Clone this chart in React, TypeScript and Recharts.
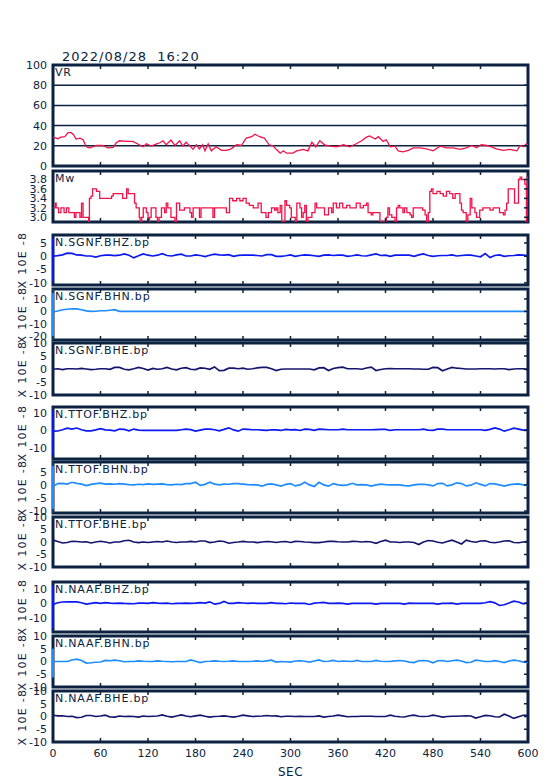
import React from "react";
import { LineChart, Line, XAxis, YAxis, CartesianGrid, ReferenceArea, ReferenceLine } from "recharts";

// seconds axis
const secTicks = [0, 60, 120, 180, 240, 300, 360, 420, 480, 540, 600];

// VR (variance reduction)
const vrTime = [
  0, 6, 10, 15, 19, 23, 26, 29, 34, 38, 42, 46, 50, 55, 63, 69, 76, 80, 84, 93,
  101, 109, 114, 118, 124, 131, 135, 139, 143, 149, 154, 160, 164, 168, 173, 177, 181, 185, 189, 192,
  196, 200, 206, 213, 219, 225, 232, 238, 244, 251, 255, 261, 267, 273, 278, 282, 287, 291, 295, 303,
  308, 316, 322, 327, 332, 337, 343, 350, 358, 367, 375, 383, 390, 396, 400, 407, 411, 417, 421, 426,
  432, 436, 442, 449, 455, 463, 472, 480, 489, 497, 506, 514, 522, 529, 535, 541, 548, 554, 560, 569,
  577, 586, 590, 594, 598, 600,
];
const vrValue = [
  28.6, 27, 28.5, 29, 33, 33, 31, 26.7, 27.6, 26, 19, 18, 19, 20.3, 20.3, 18, 18.4, 23, 25, 24.4,
  24.4, 21, 19, 22, 19.7, 22, 23, 25, 21, 25.7, 20.3, 25, 19.7, 23.5, 19.7, 16.5, 21, 17, 21, 15,
  22, 15, 19, 15.5, 15.5, 17, 21, 20.3, 27.6, 29, 31.4, 29, 27.6, 21, 20, 16.5, 12.7, 15, 12.7, 12.7,
  15, 16.5, 15, 23.5, 19, 25, 21, 19.7, 19, 21, 19, 22, 25, 28.6, 29.8, 26.7, 29, 24.4, 26, 19,
  19.7, 15, 14, 15.5, 18, 18, 17, 15, 19.7, 18, 18, 16.5, 18, 20.3, 18, 21, 20.3, 19, 17, 15.5,
  16.5, 15, 20.3, 19, 22, 21,
];

// Mw
const mwTime = [
  0, 3, 4, 7, 10, 14, 17, 20, 27, 29, 34, 36, 38, 42, 45, 46, 48, 50, 55, 59,
  74, 76, 88, 93, 95, 101, 103, 105, 109, 110, 112, 114, 118, 120, 122, 124, 130, 132, 134, 137,
  141, 143, 145, 149, 154, 156, 160, 166, 173, 175, 177, 185, 187, 202, 204, 219, 223, 227, 232, 236,
  240, 244, 248, 253, 259, 263, 269, 272, 276, 280, 282, 284, 287, 289, 293, 295, 299, 301, 306, 308,
  312, 314, 316, 318, 320, 322, 327, 331, 333, 341, 343, 348, 352, 354, 358, 362, 366, 371, 375, 383,
  388, 392, 396, 398, 402, 404, 413, 421, 423, 425, 428, 432, 434, 436, 438, 442, 444, 447, 451, 453,
  455, 461, 467, 470, 472, 474, 476, 478, 480, 485, 489, 493, 497, 501, 505, 508, 512, 514, 516, 518,
  522, 524, 527, 529, 533, 535, 539, 543, 548, 552, 556, 560, 564, 569, 571, 573, 575, 581, 583, 586,
  588, 590, 592, 596, 598, 599, 600,
];
const mwValue = [
  3.2, 3.3, 3.2, 3.1, 3.2, 3.1, 3.2, 3.1, 3.0, 3.1, 3.0, 3.3, 3.0, 3.0, 2.9, 3.4, 3.45, 3.6, 3.55, 3.4,
  3.45, 3.5, 3.4, 3.6, 3.5, 3.5, 3.3, 3.2, 3.0, 2.9, 3.0, 3.2, 3.1, 2.9, 3.0, 3.2, 3.0, 2.9, 3.0, 3.2,
  3.1, 3.3, 3.2, 3.0, 2.9, 3.3, 3.15, 3.2, 3.1, 3.0, 3.2, 3.0, 3.2, 3.0, 3.2, 3.1, 3.4, 3.35, 3.4, 3.35,
  3.4, 3.3, 3.25, 3.2, 3.3, 3.1, 3.0, 3.1, 3.2, 3.15, 3.2, 3.1, 3.25, 2.9, 3.35, 3.25, 3.2, 3.0, 2.9, 3.3,
  3.2, 3.0, 3.1, 3.25, 2.9, 3.0, 3.1, 3.3, 3.2, 3.2, 3.05, 3.2, 3.1, 3.3, 3.2, 3.3, 3.2, 3.25, 3.2, 3.3,
  3.2, 3.25, 3.3, 3.1, 3.05, 3.1, 2.9, 3.0, 3.2, 3.05, 3.0, 2.9, 3.2, 3.25, 3.2, 3.1, 3.2, 3.1, 3.05, 3.0,
  3.2, 3.2, 3.15, 3.05, 2.9, 3.1, 3.55, 3.6, 3.5, 3.55, 3.5, 3.45, 3.55, 3.5, 3.4, 3.5, 3.5, 3.3, 3.15, 3.1,
  2.9, 3.05, 3.4, 3.2, 3.1, 3.0, 3.15, 3.2, 3.2, 3.15, 3.2, 3.2, 3.1, 3.05, 3.15, 3.3, 3.6, 3.6, 3.3, 3.3,
  3.8, 3.85, 3.8, 3.7, 2.9, 3.85, 3.85,
];

// waveform sample times (s)
const waveTime = [
  0, 6, 12, 18, 24, 30, 36, 42, 48, 54, 60, 66, 72, 78, 84, 90, 96, 102, 108, 114,
  120, 126, 132, 138, 144, 150, 156, 162, 168, 174, 180, 186, 192, 198, 204, 210, 216, 222, 228, 234,
  240, 246, 252, 258, 264, 270, 276, 282, 288, 294, 300, 306, 312, 318, 324, 330, 336, 342, 348, 354,
  360, 366, 372, 378, 384, 390, 396, 402, 408, 414, 420, 426, 432, 438, 444, 450, 456, 462, 468, 474,
  480, 486, 492, 498, 504, 510, 516, 522, 528, 534, 540, 546, 552, 558, 564, 570, 576, 582, 588, 594,
  600,
];

// waveforms, x 10E-8
const sgnfBHZ = [
  0, 0.25, 0.55, 1.2, 1.1, 0.5, 0.4, 0.1, 0.1, -0.3,
  0.2, 0.4, 0.4, 0.25, 0.4, 0.9, 0.4, -0.6, 0.2, 0.9,
  0.4, 0.1, 0.4, 1.0, 0.3, 0.1, 0.5, 0.8, 0.1, 0.1,
  0.5, 0.3, -0.1, 0.4, 0.8, 0.5, 0.4, 0.6, 0, 0.35,
  0.4, 0.4, 0.4, 0.3, 0.1, 0.6, 0.6, 0, 0, 0.2,
  0.5, 0, 0.3, 0.5, 0.4, 0.2, 0, 0.4, 0.5, 0.3,
  0.4, 0.4, 0, 0.2, 0.5, 0.2, 0.1, 0.5, 0.9, 0.3,
  0.4, 0, 0.4, 0.4, 0.4, 0.4, 0, 0.5, 0.9, 0.3,
  0, 0.2, 0.3, 0.3, 0.5, 0.1, 0.3, 0.4, 0.4, 0.1,
  -0.2, 1.0, -0.5, 0.3, 0.5, 0, 0.2, 0.3, 0.5, 0.4,
  0.3,
];
const sgnfBHN = [
  -0.5, 0.3, 1.3, 1.7, 2.1, 2.0, 1.3, 0.4, 0, 0.1,
  0.5, 0.5, 0.9, 1.4, 0, 0, 0, 0, 0, 0,
  0, 0, 0, 0, 0, 0, 0, 0, 0, 0,
  0, 0, 0, 0, 0, 0, 0, 0, 0, 0,
  0, 0, 0, 0, 0, 0, 0, 0, 0, 0,
  0, 0, 0, 0, 0, 0, 0, 0, 0, 0,
  0, 0, 0, 0, 0, 0, 0, 0, 0, 0,
  0, 0, 0, 0, 0, 0, 0, 0, 0, 0,
  0, 0, 0, 0, 0, 0, 0, 0, 0, 0,
  0, 0, 0, 0, 0, 0, 0, 0, 0, 0,
  0,
];
const sgnfBHE = [
  -0.1, 0.1, -0.2, 0.1, 0.1, 0, 0.25, 0, -0.25, -0.1,
  0.1, 0.1, -0.1, 0.6, 0.6, -0.1, -0.3, 0.1, 0.6, 0.2,
  -0.4, 0.2, -0.1, 0.1, 0.6, 0, -0.3, 0.3, 0.5, -0.1,
  -0.2, 0.4, 0.3, -0.1, 0.8, -0.6, -0.5, 0.3, 0.3, 0.1,
  0.3, -0.1, 0.1, 0.4, 0.6, 0.6, 0.1, -0.6, -0.1, 0,
  0, 0, 0, 0, 0, -0.3, 0.4, 0.5, -0.6, 0.2,
  0.5, 0.7, 0.1, 0.1, 0.1, -0.1, 0.4, 0.7, -0.6, -0.2,
  0.1, 0.2, 0.1, 0.1, 0.1, 0.1, 0, 0, -0.1, -0.1,
  0.6, 0.5, -0.7, 0, 0.6, 0.3, 0.2, 0, 0, 0,
  0.1, 0.1, 0.1, 0, 0.1, 0.1, -0.2, 0, 0.1, 0.1,
  -0.4,
];
const ttofBHZ = [
  -0.4, -0.3, 0.4, 1.3, 0.8, 1.4, 0.4, -0.2, -0.2, 0.3,
  1.0, 0.3, 0.2, -0.2, 0.8, 0.6, -0.2, 0.8, 0.2, 0,
  0, 0, 0, 0, 0, 0, 0, 0.4, 0.8, 0.5,
  -0.4, 0.2, 0.8, 0.8, 0.4, -0.2, 0.6, 1.5, 0.3, -0.4,
  0.8, 0.6, 0.4, 0.4, 0.2, 0, 0.4, 0.3, 0, 0.6,
  0.3, 0.5, 0, 0.8, 0.6, 0.1, 0.8, 0.6, 0.4, 0.4,
  0.4, 0.8, 0.4, 0.4, 0.4, 0.4, 0.4, 0.4, 0.5, 0.6,
  0.6, 0, 0.4, 0.4, 0.4, 0.4, 0.4, 0.4, 0.8, 0.2,
  0.1, 0.8, 0.8, 0.4, 0.4, 0.4, 0.4, 0.4, 0.4, 0.4,
  0.4, 0.1, 0.6, 1.5, 0.8, -0.4, 0.4, 1.3, 0.8, 0.2,
  0.4,
];
const ttofBHN = [
  -0.5, 0.5, 0.6, 0.3, 1.0, 0.6, 0.3, -0.25, 0.2, 0.5,
  0.7, 0.3, 0.4, 0.25, 0.5, 0.3, 0.1, 0, 0.25, 0.1,
  0.4, 0.2, 0.3, 0.4, 0.1, 0, 0.25, 0.1, 0.5, 0.5,
  1.0, -0.2, 0.2, 1.0, 0.3, 0, 0.3, 0.25, 0.5, 0.5,
  0.3, 0.1, 0, 0, -0.5, 0.2, 0.4, 0, -0.5, 0.2,
  0.5, -0.4, 0, 1.0, 0, -0.6, 1.0, 0, -0.5, 0.5,
  0, -0.2, 0, 0.6, 0, 0.1, 0, -0.5, 0, 0.3,
  0.1, 0, 0, 0, -0.3, -0.4, 0, 0.2, 0.25, 0,
  -0.4, 0.5, 0.6, -0.4, 0, 0.8, 0.5, -0.4, -0.1, 0.8,
  0.2, -0.4, 0.5, 0.4, 0, -0.5, 0, 0.3, 0.4, 0,
  -0.2,
];
const ttofBHE = [
  0.75, 0.2, -0.4, -0.2, 0.3, 0.2, 0, 0.1, -0.4, 0,
  0.3, 0, -0.4, 0, 0, 0.5, 0.7, 0, -0.25, 0,
  -0.2, 0, 0.2, 0, 0.4, 0, -0.2, 0, 0, 0.25,
  0, 0.4, 0.4, -0.25, 0, 0.4, 0.2, -0.5, -0.2, 0,
  0.25, 0, 0, -0.25, 0, 0.2, 0.1, -0.2, 0.1, 0.2,
  -0.2, 0.25, 0.2, 0, -0.1, -0.25, -0.25, 0, 0.25, 0.25,
  0.1, 0, 0, 0.25, 0.2, 0, 0.2, 0, -0.5, 0.2,
  0.75, 0, 0, -0.2, 0, 0, -0.2, -1.0, 0, 0.6,
  0.4, -0.1, -0.4, 0.2, 0.75, 0, -0.8, 0.75, 0.2, -0.1,
  0.4, 0.5, -0.1, -0.3, 0, 0.4, 0.5, -0.2, -0.3, 0,
  0.25,
];
const naafBHZ = [
  -0.7, 0.5, 1.0, 1.1, 1.1, 1.1, 0.5, -0.5, 0, 0.5,
  0, 0.5, 0.2, 0, 0.2, 0, -0.1, -0.2, 0.2, 0.2,
  0, 0.5, 0.2, 0, 0.2, -0.2, 0, 0, 0.2, 0,
  0.2, 0.5, 0.2, 1.1, -0.5, 0, 1.4, 0, 0, 0.5,
  0.3, 0, 0.2, 0.1, 0, 0, 0.5, 0, 0, -0.2,
  0.3, 0, 0, 0, -0.7, 0.2, 0.5, 0.7, 0.1, 0.1,
  0.2, 0, -0.5, 0, 0, 0, 0, 0, -0.5, 0,
  0, 0, 0, 0, -0.4, 0.2, 0, 0, 0, 0,
  0, -0.4, 0, 0, 0.2, -0.5, 0, 0, 0, 0,
  0, 0.5, 1.3, 0.4, -1.4, -0.9, 0.3, 1.6, 1.0, -0.3,
  0.7,
];
const naafBHN = [
  0, 0, 0, 0, 0.6, 0.9, 0.4, -0.6, -0.5, -0.3,
  -0.2, 0.4, 0.3, 0.5, 0.3, -0.1, 0, 0, 0.25, 0.1,
  0, 0, 0.25, 0.1, 0, -0.1, 0, 0, 0, 0.6,
  0.1, -0.4, 0, 0.1, 0.25, 0.1, 0, 0.1, 0.25, 0,
  0, 0, 0.1, 0.25, 0, 0.25, 0.5, -0.25, 0, -0.1,
  -0.25, 0.2, 0.3, 0.1, -0.25, 0.2, 0.6, 0, 0.1, 0.4,
  0, 0.2, 0.1, 0, 0.4, 0, 0, 0, 0.4, 0.1,
  0, 0, 0.25, 0.4, 0.2, -0.25, -0.4, 0.3, 0.4, 0.2,
  -0.5, 0.3, 0.4, 0, 0.3, 0.5, 0.2, -0.4, -0.3, 0.5,
  0.3, 0, 0, 0.3, 0, -0.4, 0.2, 0.5, 0.3, -0.25,
  -0.4,
];
const naafBHE = [
  0.5, 0.25, 0.3, 0, 0.1, -0.4, -0.3, 0.4, 0.4, 0,
  0.2, 0.5, -0.2, -0.25, 0.2, 0, 0.1, 0, -0.25, 0.2,
  0, 0.1, 0.2, 0.6, 0.1, -0.25, 0.2, 0.6, 0.2, -0.1,
  0.25, 0.5, 0.1, -0.25, 0, 0.1, 0.25, 0, -0.25, 0.1,
  0.5, 0.25, 0, 0.1, 0.2, 0.4, 0.2, 0.25, -0.1, 0.1,
  0.1, 0, 0.1, 0, 0, 0, 0.25, -0.25, 0, 0.2,
  0.5, 0.25, -0.1, 0, 0, 0.1, 0.1, 0.1, 0, 0,
  0, 0.5, 0.1, -0.1, -0.2, 0.3, 0.5, 0.1, 0, 0.1,
  0.5, 0.2, -0.25, 0, 0.1, 0.1, 0.2, 0.3, 0.2, -0.6,
  -0.1, 0.4, 0.3, -0.1, -0.2, 0.9, 0.2, -0.75, -0.1, 0.5,
  0.5,
];

const NAVY = "#0b2341";
const RED = "#f2124a";
const BLUE_Z = "#0a18f2";
const BLUE_N = "#1e8cff";
const BLUE_E = "#14146e";

const fiveTicks = [-10, -5, 0, 5, 10];

const panels = [
  { label: "VR", top: 65, bottom: 166, domain: [0, 100], ticks: [0, 20, 40, 60, 80, 100], t: vrTime, v: vrValue, color: RED, grid: true, lw: 1.3 },
  { label: "Mw", top: 171, bottom: 222, domain: [2.9, 3.98], ticks: [3.0, 3.2, 3.4, 3.6, 3.8], t: mwTime, v: mwValue, color: RED, step: true, lw: 1.3, fmt: (x: number) => x.toFixed(1) },
  { label: "N.SGNF.BHZ.bp", top: 235, bottom: 285, domain: [-10.8, 8], ticks: [-10, -5, 0, 5], t: waveTime, v: sgnfBHZ, color: BLUE_Z, unit: true, edge: true },
  { label: "N.SGNF.BHN.bp", top: 289, bottom: 340, domain: [-23, 18], ticks: [-20, -10, 0, 10], t: waveTime, v: sgnfBHN, color: BLUE_N, unit: true, edge: true },
  { label: "N.SGNF.BHE.bp", top: 343, bottom: 395, domain: [-10, 10], ticks: fiveTicks, t: waveTime, v: sgnfBHE, color: BLUE_E, unit: true },
  { label: "N.TTOF.BHZ.bp", top: 407, bottom: 459, domain: [-16.3, 13.4], ticks: [-10, 0, 10], t: waveTime, v: ttofBHZ, color: BLUE_Z, unit: true, edge: true },
  { label: "N.TTOF.BHN.bp", top: 462, bottom: 513, domain: [-10.75, 8.75], ticks: [-10, -5, 0, 5], t: waveTime, v: ttofBHN, color: BLUE_N, unit: true, edge: true },
  { label: "N.TTOF.BHE.bp", top: 517, bottom: 567, domain: [-10, 10], ticks: fiveTicks, t: waveTime, v: ttofBHE, color: BLUE_E, unit: true },
  { label: "N.NAAF.BHZ.bp", top: 582, bottom: 632, domain: [-19.7, 14.8], ticks: [-10, 0, 10], t: waveTime, v: naafBHZ, color: BLUE_Z, unit: true, edge: true },
  { label: "N.NAAF.BHN.bp", top: 636, bottom: 687, domain: [-10, 10], ticks: fiveTicks, t: waveTime, v: naafBHN, color: BLUE_N, unit: true, edgeSeg: [5, -6.3] },
  { label: "N.NAAF.BHE.bp", top: 691, bottom: 742, domain: [-10, 10], ticks: fiveTicks, t: waveTime, v: naafBHE, color: BLUE_E, unit: true, last: true },
];

// inward tick marks drawn as custom ticks
const markUp = (props: any) => (
  <line x1={props.x} x2={props.x} y1={props.y} y2={props.y - 4} stroke={NAVY} strokeWidth={1.5} />
);
const markDown = (props: any) => (
  <line x1={props.x} x2={props.x} y1={props.y} y2={props.y + 4} stroke={NAVY} strokeWidth={1.5} />
);
const markLeft = (props: any) => (
  <line x1={props.x} x2={props.x - 4} y1={props.y} y2={props.y} stroke={NAVY} strokeWidth={1.5} />
);

function Panel(p: any) {
  const h = p.bottom - p.top;
  const mb = p.last ? 30 : 10;
  const rows = p.t.map((t: number, i: number) => ({ t, v: p.v[i] }));
  // axes need a size of at least 1px to be drawn; the margins make up for it
  return (
    <>
      <div style={{ position: "absolute", left: 0, top: p.top - 10 }}>
        <LineChart width={554} height={h + 10 + mb} data={rows}
          margin={{ top: 9, right: 25, bottom: mb - (p.last ? 2 : 1), left: 0 }}>
          {p.grid && <CartesianGrid vertical={false} stroke={NAVY} strokeWidth={1.5} />}
          <XAxis dataKey="t" type="number" domain={[0, 600]} ticks={secTicks} allowDataOverflow height={1}
            axisLine={false} tickLine={false} tickSize={0} tickMargin={0} interval={0} tick={markUp} />
          <XAxis xAxisId="top" orientation="top" dataKey="t" type="number" domain={[0, 600]} ticks={secTicks}
            allowDataOverflow height={1} axisLine={false} tickLine={false} tickSize={0} tickMargin={0}
            interval={0} tick={markDown} />
          {p.last && (
            <XAxis xAxisId="lab" dataKey="t" type="number" domain={[0, 600]} ticks={secTicks} allowDataOverflow
              height={1} axisLine={false} tickLine={false} tickSize={0} tickMargin={6} interval={0}
              tick={{ fill: NAVY, fontSize: 11 }} />
          )}
          <YAxis type="number" domain={p.domain} ticks={p.ticks} allowDataOverflow width={53} interval={0}
            axisLine={false} tickLine={false} tickSize={4} tickMargin={2}
            tick={{ fill: NAVY, fontSize: 11 }} tickFormatter={p.fmt} />
          <YAxis yAxisId="r" orientation="right" type="number" domain={p.domain} ticks={p.ticks} allowDataOverflow
            width={1} interval={0} axisLine={false} tickLine={false} tickSize={0} tickMargin={0} tick={markLeft} />
          <Line dataKey="v" type={p.step ? "stepAfter" : "linear"} stroke={p.color} strokeWidth={p.lw || 1.7}
            dot={false} isAnimationActive={false} />
          <ReferenceArea x1={0} x2={600} y1={p.domain[0]} y2={p.domain[1]} fill="none" stroke={NAVY}
            strokeWidth={3} ifOverflow="visible" />
          {p.edge && <ReferenceLine x={0} stroke={p.color} strokeWidth={2} ifOverflow="visible" />}
          {p.edgeSeg && (
            <ReferenceLine segment={[{ x: 0, y: p.edgeSeg[0] }, { x: 0, y: p.edgeSeg[1] }]} stroke={p.color}
              strokeWidth={2} ifOverflow="visible" />
          )}
        </LineChart>
      </div>
      <div style={{ position: "absolute", left: 55, top: p.top + 1, fontSize: 11, color: NAVY, letterSpacing: 0.8 }}>
        {p.label}
      </div>
      {p.unit && (
        <div style={{
          position: "absolute", left: 22, top: (p.top + p.bottom) / 2, fontSize: 11, color: NAVY,
          letterSpacing: 1.3, whiteSpace: "pre", transform: "translate(-50%, -50%) rotate(-90deg)",
        }}>
          X 10E -8
        </div>
      )}
    </>
  );
}

export default function App() {
  return (
    <div style={{ position: "absolute", left: 0, top: 0, width: 554, height: 781, background: "#fff", fontFamily: "'DejaVu Sans', sans-serif" }}>
      <div style={{ position: "absolute", left: 62, top: 49, fontSize: 13, color: NAVY, letterSpacing: 1, whiteSpace: "pre" }}>
        2022/08/28  16:20
      </div>
      {panels.map((p) => <Panel key={p.label} {...p} />)}
      <div style={{ position: "absolute", left: 278, top: 765, fontSize: 12, color: NAVY, letterSpacing: 0.5 }}>SEC</div>
    </div>
  );
}
